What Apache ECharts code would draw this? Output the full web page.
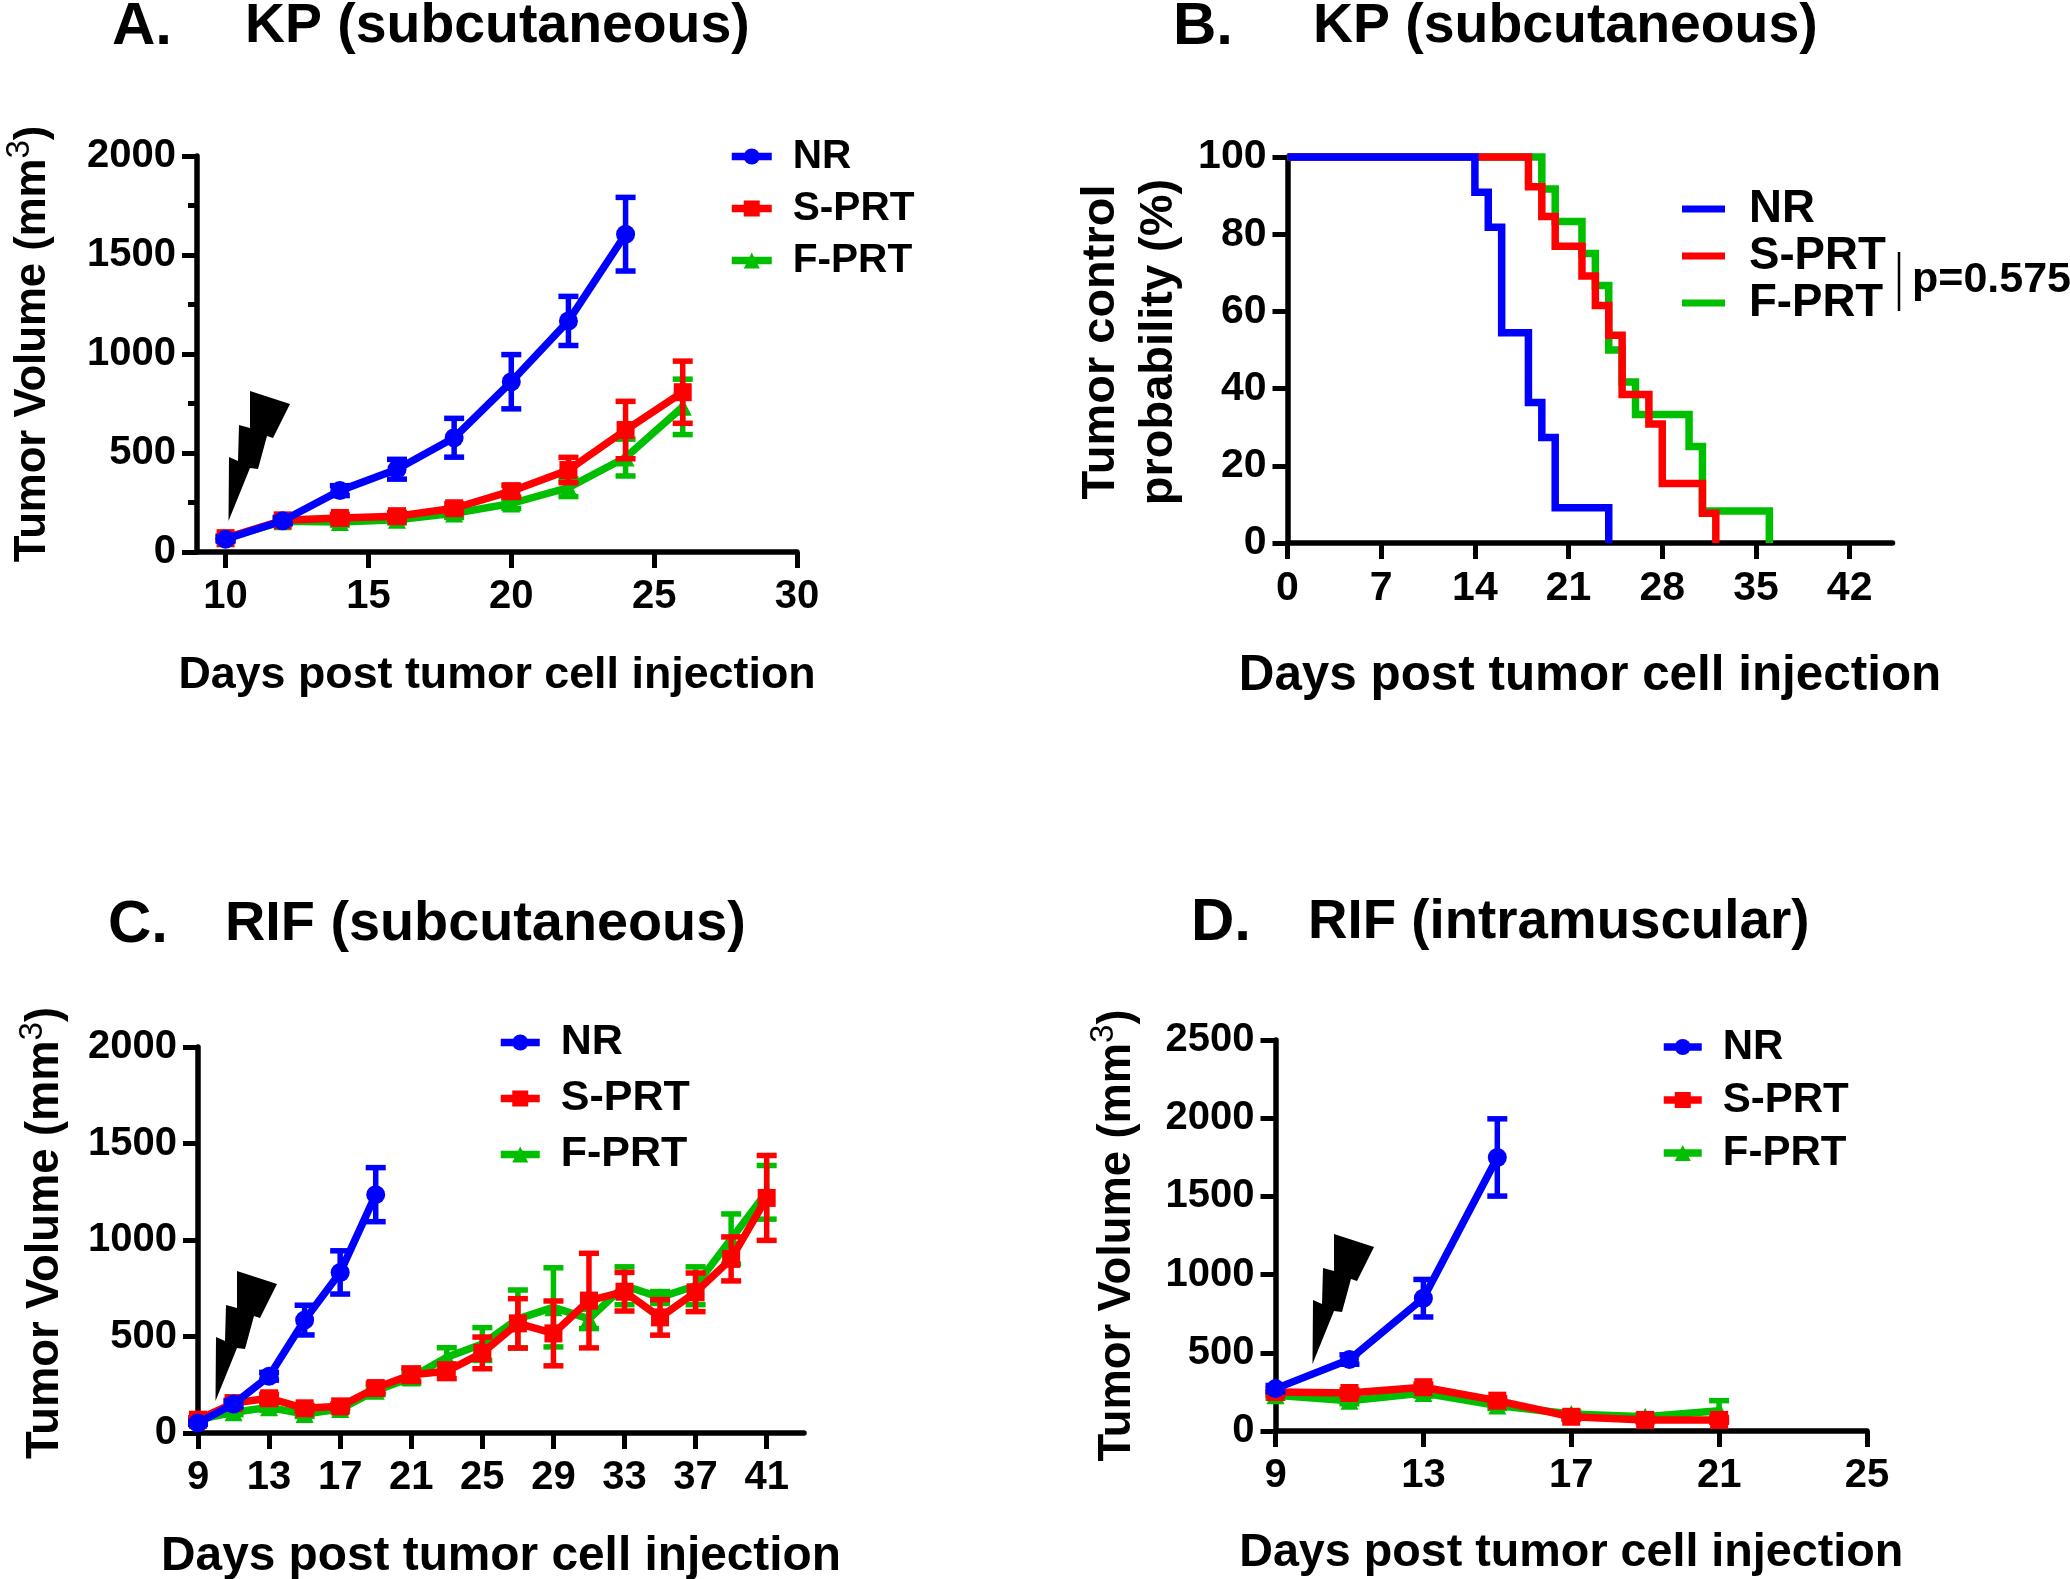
<!DOCTYPE html>
<html><head><meta charset="utf-8">
<style>html,body{margin:0;padding:0;background:#fff}#c{width:2070px;height:1579px}</style>
<script src="https://cdn.jsdelivr.net/npm/echarts@6/dist/echarts.min.js"></script></head>
<body><div id="c"></div>
<script>
// Panel A
const aDaysNR=[10,12,14,16,18,20,22,24];
const aNR=[65,158,310,418,577,860,1167,1605];
const aNRerr=[10,15,25,50,98,137,124,186];
const aDays=[10,12,14,16,18,20,22,24,26];
const aS=[70,160,172,181,221,307,414,616,807];
const aSerr=[10,15,18,18,22,30,64,145,157];
const aF=[70,155,151,163,195,245,325,477,733];
const aFerr=[10,12,15,15,20,25,45,93,140];
// Panel B (Kaplan-Meier steps: [day, % after the step])
const bNR=[[0,100],[14,90.9],[15,81.8],[16,54.5],[18,36.4],[19,27.3],[20,9.1],[24,0]];
const bS=[[0,100],[18,92.3],[19,84.6],[20,76.9],[22,69.2],[23,61.5],[24,53.8],[25,38.5],[27,30.8],[28,15.4],[31,7.7],[32,0]];
const bF=[[0,100],[19,91.7],[20,83.3],[22,75],[23,66.7],[24,50],[25,41.7],[26,33.3],[30,25],[31,8.3],[36,0]];
// Panel C
const cDaysNR=[9,11,13,15,17,19];
const cNR=[52,150,294,585,832,1235];
const cNRerr=[8,15,20,77,112,140];
const cDays=[9,11,13,15,17,19,21,23,25,27,29,31,33,35,37,39,41];
const cS=[69,155,180,128,138,233,302,320,415,568,516,686,732,599,729,902,1218];
const cSerr=[10,15,20,15,12,25,35,38,82,128,168,245,100,92,100,114,220];
const cF=[69,107,133,98,124,219,288,392,461,591,651,591,763,703,763,1005,1247];
const cFerr=[8,12,15,12,12,20,30,50,85,150,205,50,98,30,98,130,139];
// Panel D
const dDaysNR=[9,11,13,15];
const dNR=[271,457,849,1749];
const dNRerr=[20,30,120,247];
const dDays=[9,11,13,15,17,19,21];
const dS=[249,243,280,194,91,71,71];
const dSerr=[20,20,20,18,15,12,15];
const dF=[229,194,243,163,109,91,129];
const dFerr=[20,20,20,18,15,12,65];
// Ticks
const aXTicks=[10,15,20,25,30];
const bXTicks=[0,7,14,21,28,35,42];
const cXTicks=[9,13,17,21,25,29,33,37,41];
const dXTicks=[9,13,17,21,25];
const seriesNames=['NR','S-PRT','F-PRT'];

const BLUE='#0000ff',RED='#ff0000',GREEN='#00be00';
const FONT='"Liberation Sans", Arial, sans-serif';
const zip=(x,y)=>x.map((v,i)=>[v,y[i]]);
const zipErr=(x,y,e)=>x.map((v,i)=>[v,y[i]-e[i],y[i]+e[i]]);

const errorBars=(idx,color,data,z)=>({
  type:'custom',name:'error '+color,xAxisIndex:idx,yAxisIndex:idx,z,silent:true,clip:false,
  encode:{x:0,y:[1,2]},data,
  renderItem(p,api){
    const x=api.value(0),lo=api.coord([x,api.value(1)]),hi=api.coord([x,api.value(2)]);
    const cap=10,st={stroke:color,lineWidth:5.5,fill:null};
    return {type:'group',children:[
      {type:'line',shape:{x1:lo[0],y1:lo[1],x2:hi[0],y2:hi[1]},style:st},
      {type:'line',shape:{x1:lo[0]-cap,y1:lo[1],x2:lo[0]+cap,y2:lo[1]},style:st},
      {type:'line',shape:{x1:hi[0]-cap,y1:hi[1],x2:hi[0]+cap,y2:hi[1]},style:st}
    ]};
  }
});
const lineS=(idx,name,color,symbol,size,data,z)=>({
  type:'line',name,xAxisIndex:idx,yAxisIndex:idx,z,data,symbol,symbolSize:size,showSymbol:true,clip:false,
  animation:false,silent:true,lineStyle:{color,width:7.5},itemStyle:{color,opacity:1}
});
const stepS=(idx,name,color,data,z)=>({
  type:'line',name,xAxisIndex:idx,yAxisIndex:idx,z,data,step:'end',symbol:'none',clip:false,
  animation:false,silent:true,lineStyle:{color,width:7.5,join:'miter'},itemStyle:{color}
});
function growthSeries(idx,dn,nr,ne,d,s,se,f,fe){
  return [
    errorBars(idx,GREEN,zipErr(d,f,fe),2),
    lineS(idx,'F-PRT',GREEN,'triangle',18,zip(d,f),3),
    errorBars(idx,RED,zipErr(d,s,se),4),
    lineS(idx,'S-PRT',RED,'rect',18,zip(d,s),5),
    errorBars(idx,BLUE,zipErr(dn,nr,ne),6),
    lineS(idx,'NR',BLUE,'circle',19,zip(dn,nr),7)
  ];
}
const grids=[
  {left:197,top:156,width:600,height:396,outerBoundsMode:'none'},
  {left:1287.5,top:157,width:605,height:386,outerBoundsMode:'none'},
  {left:198,top:1047,width:606,height:386,outerBoundsMode:'none'},
  {left:1275.5,top:1040,width:591.5,height:391,outerBoundsMode:'none'}
];
const xAxisOf=(idx,min,max,ticks,size,gap,lab)=>({
  type:'value',gridIndex:idx,min,max,name:'Days post tumor cell injection',nameLocation:'middle',nameGap:gap,
  nameTextStyle:{fontFamily:FONT,fontWeight:'bold',fontSize:size,color:'#000'},
  axisLine:{show:true,onZero:false,lineStyle:{color:'#000',width:5.5}},
  axisTick:{show:true,length:16,lineStyle:{color:'#000',width:5},customValues:ticks},
  axisLabel:{fontFamily:FONT,fontWeight:'bold',fontSize:lab,color:'#000',margin:25,customValues:ticks,hideOverlap:false,formatter:v=>String(v)},
  splitLine:{show:false}
});
const yAxisOf=(idx,max,interval,minor,name,gap,shift,size,lab,rich)=>({
  type:'value',gridIndex:idx,min:0,max,interval,name,nameLocation:'middle',nameGap:gap,nameRotate:90,nameMoveOverlap:false,
  nameTextStyle:Object.assign({fontFamily:FONT,fontWeight:'bold',fontSize:size,lineHeight:58,color:'#000',padding:[0,0,0,shift]},rich?{rich}:{}),
  axisLine:{show:true,onZero:false,lineStyle:{color:'#000',width:5.5}},
  axisTick:{show:true,length:15,lineStyle:{color:'#000',width:5}},
  minorTick:{show:minor,splitNumber:2,length:9,lineStyle:{color:'#000',width:5}},
  axisLabel:{fontFamily:FONT,fontWeight:'bold',fontSize:lab,color:'#000',margin:21,padding:[5,0,0,0],formatter:v=>String(v)},
  splitLine:{show:false},minorSplitLine:{show:false}
});
const tvRich=(size)=>({a:{fontFamily:FONT,fontWeight:'bold',fontSize:size,color:'#000',lineHeight:60},
  b:{fontFamily:FONT,fontWeight:'normal',fontSize:33,color:'#000',verticalAlign:'top',lineHeight:60}});
const tvName='{a|Tumor Volume (mm}{b|3}{a|)}';

const legendOf=(left,top,gap,lineOnly,w,size)=>({
  orient:'vertical',left,top,padding:0,itemGap:gap,itemWidth:w,itemHeight:lineOnly?7:20,selectedMode:false,
  lineStyle:{width:7.5},
  data:seriesNames.map(n=>lineOnly?{name:n,icon:'rect'}:{name:n}),
  textStyle:{fontFamily:FONT,fontWeight:'bold',fontSize:size,color:'#000',padding:[0,0,0,lineOnly?19:16]}
});
const label=(text,left,top,size)=>({text,left,top,padding:0,textVerticalAlign:'middle',
  textStyle:{fontFamily:FONT,fontWeight:'bold',fontSize:size,color:'#000'}});
const BOLT=[[0.5,130],[1,66],[10,70],[11,34],[22,37],[22,0],[62,13],[45,47],[39,45],[30,78],[22,77]];
const bolt=(x,y)=>({type:'polygon',x,y,z:20,silent:true,shape:{points:BOLT},style:{fill:'#000'}});

const chart=echarts.init(document.getElementById('c'),null,{renderer:'canvas'});
chart.setOption({
  animation:false,backgroundColor:'#fff',
  title:[
    label('A.',112,27,60),label('KP (subcutaneous)',245,27,55.4),
    label('B.',1173,27,60),label('KP (subcutaneous)',1313,27,55.4),
    label('C.',108,925,60),label('RIF (subcutaneous)',225,925,55.8),
    label('D.',1191,923,60),label('RIF (intramuscular)',1308,923,54.7)
  ],
  grid:grids,
  xAxis:[xAxisOf(0,9,30,aXTicks,44.8,101,40),xAxisOf(1,0,45.2,bXTicks,49.4,109,41),xAxisOf(2,9,43.1,cXTicks,47.8,100,40),xAxisOf(3,9,25,dXTicks,46.7,99,40)],
  yAxis:[
    yAxisOf(0,2000,500,true,tvName,134,20,44,40,tvRich(43.7)),
    yAxisOf(1,100,20,false,'Tumor control\nprobability (%)',99,16,47,41),
    yAxisOf(2,2000,500,false,tvName,122,14,44,40,tvRich(45.3)),
    yAxisOf(3,2500,500,false,tvName,128,0,44,40,tvRich(45.3))
  ],
  legend:[legendOf(728,136,11,false,40,40.6),legendOf(1682,186,1,true,43,45.6),legendOf(497,1021,13,false,39,43),legendOf(1660,1026,11,false,38,42)],
  series:[
    ...growthSeries(0,aDaysNR,aNR,aNRerr,aDays,aS,aSerr,aF,aFerr),
    stepS(1,'F-PRT',GREEN,bF,3),stepS(1,'S-PRT',RED,bS,5),stepS(1,'NR',BLUE,bNR,7),
    ...growthSeries(2,cDaysNR,cNR,cNRerr,cDays,cS,cSerr,cF,cFerr),
    ...growthSeries(3,dDaysNR,dNR,dNRerr,dDays,dS,dSerr,dF,dFerr)
  ],
  graphic:[
    bolt(228,391),bolt(215,1271),bolt(1312,1234),
    {type:'line',silent:true,shape:{x1:1899,y1:252,x2:1899,y2:311},style:{stroke:'#000',lineWidth:2.5}},
    {type:'text',silent:true,x:1912,y:280,style:{text:'p=0.575',fontFamily:FONT,fontWeight:'bold',fontSize:43,fill:'#000',verticalAlign:'middle'}}
  ]
});
</script></body></html>
